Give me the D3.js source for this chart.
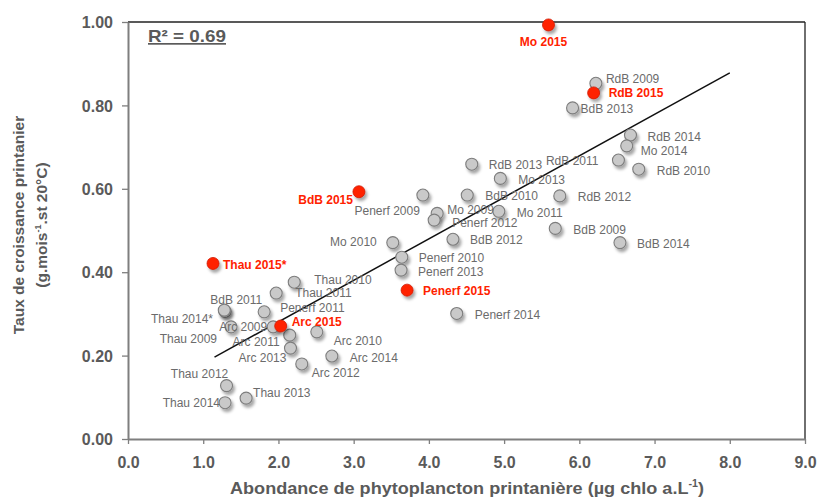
<!DOCTYPE html>
<html>
<head>
<meta charset="utf-8">
<script src="https://cdn.jsdelivr.net/npm/d3@7"></script>
<style>
  html, body { margin: 0; padding: 0; background: #fff; }
  svg { display: block; font-family: "Liberation Sans", Arial, sans-serif; }
</style>
</head>
<body>
<svg id="chart" width="818" height="498"></svg>
<script>
// Spring growth rate vs spring phytoplankton abundance, by site and year
const sitesPrev = ["RdB 2009","BdB 2013","RdB 2014","Mo 2014","RdB 2011","RdB 2010","RdB 2013","Mo 2013",
  "RdB 2012","BdB 2010","Penerf 2009","Mo 2009","Penerf 2012","Mo 2011","BdB 2009","BdB 2014","BdB 2012",
  "Mo 2010","Penerf 2010","Penerf 2013","Penerf 2014","Thau 2010","Thau 2011","Penerf 2011","Thau 2014*",
  "BdB 2011","Thau 2009","Arc 2009","Arc 2011","Arc 2013","Arc 2012","Arc 2010","Arc 2014","Thau 2012",
  "Thau 2014","Thau 2013"];
const chlaPrev = [6.22,5.91,6.68,6.63,6.52,6.79,4.57,4.95,5.74,4.51,3.92,4.11,4.07,4.93,5.68,6.54,4.32,
  3.52,3.64,3.63,4.37,2.21,1.97,1.81,1.29,1.28,1.37,1.93,2.15,2.16,2.31,2.51,2.71,1.31,1.29,1.57];
const growthPrev = [0.853,0.794,0.729,0.703,0.669,0.647,0.659,0.625,0.583,0.585,0.585,0.541,0.525,0.546,
  0.505,0.471,0.479,0.471,0.436,0.405,0.301,0.376,0.350,0.305,0.306,0.309,0.269,0.269,0.249,0.218,0.180,
  0.257,0.199,0.128,0.087,0.098];

const sites2015 = ["Mo 2015","RdB 2015","BdB 2015","Thau 2015*","Penerf 2015","Arc 2015"];
const chla2015 = [5.59,6.19,3.07,1.13,3.71,2.03];
const growth2015 = [0.993,0.830,0.593,0.421,0.357,0.271];

const xTicks = [0,1,2,3,4,5,6,7,8,9];
const yTicks = [0,0.2,0.4,0.6,0.8,1.0];

// Linear fit
const fitSlope = 0.0995;
const fitIntercept = 0.082;
const fitRange = [1.15, 8.0];
const r2Text = "R² = 0.69";

const xTitle = "Abondance de phytoplancton printanière (µg chlo a.L";
const yTitle1 = "Taux de croissance printanier";

// Label placement around each marker: [dx, dy, anchor]
const labelPlace = {
  "RdB 2009":[10,-4,"start"], "BdB 2013":[8,1,"start"], "RdB 2014":[17,2,"start"], "Mo 2014":[14,5,"start"],
  "RdB 2011":[-20,1,"end"], "RdB 2010":[18,2,"start"], "RdB 2013":[17,1,"start"], "Mo 2013":[18,1,"start"],
  "RdB 2012":[18,1,"start"], "BdB 2010":[18,1,"start"], "Penerf 2009":[-3,16,"end"], "Mo 2009":[10,-4,"start"],
  "Penerf 2012":[18,3,"start"], "Mo 2011":[18,1,"start"], "BdB 2009":[18,1,"start"], "BdB 2014":[17,1,"start"],
  "BdB 2012":[17,1,"start"], "Mo 2010":[-16,-1,"end"], "Penerf 2010":[17,1,"start"], "Penerf 2013":[17,2,"start"],
  "Penerf 2014":[18,1,"start"], "Thau 2010":[20,-2,"start"], "Thau 2011":[19,0,"start"], "Penerf 2011":[16,-4,"start"],
  "Thau 2014*":[-12,7,"end"], "BdB 2011":[12,-10,"middle"], "Thau 2009":[-14,12,"end"], "Arc 2009":[-6,0,"end"],
  "Arc 2011":[-10,7,"end"], "Arc 2013":[-4,10,"end"], "Arc 2012":[10,9,"start"], "Arc 2010":[17,9,"start"],
  "Arc 2014":[18,2,"start"], "Thau 2012":[-27,-12,"middle"], "Thau 2014":[-5,0,"end"], "Thau 2013":[7,-5,"start"],
  "Mo 2015":[-5,17,"middle"], "RdB 2015":[15,0,"start"], "BdB 2015":[-6,8,"end"], "Thau 2015*":[10,1,"start"],
  "Penerf 2015":[16,1,"start"], "Arc 2015":[11,-4,"start"]
};

const W = 818, H = 498;
const margin = {left: 128, top: 22, right: 13, bottom: 59};
const svg = d3.select("#chart");

const x = d3.scaleLinear().domain([0, 9]).range([margin.left, W - margin.right]);
const y = d3.scaleLinear().domain([0, 1]).range([H - margin.bottom, margin.top]);

const textGray = "#5a5a5a";
const red = "#ff2200";

// shadow for markers
const defs = svg.append("defs");
const f = defs.append("filter").attr("id", "shadow").attr("x", "-50%").attr("y", "-50%").attr("width", "200%").attr("height", "200%");
f.append("feDropShadow").attr("dx", 2).attr("dy", 3).attr("stdDeviation", 1.6)
  .attr("flood-color", "#000").attr("flood-opacity", 0.35);

// frame: top and right borders
svg.append("line").attr("x1", x(0)).attr("x2", x(9)).attr("y1", y(1)).attr("y2", y(1))
  .attr("stroke", "#222").attr("stroke-width", 1.3);
svg.append("line").attr("x1", x(9)).attr("x2", x(9)).attr("y1", y(1)).attr("y2", y(0))
  .attr("stroke", "#222").attr("stroke-width", 1.3);

// axes
const xAxis = d3.axisBottom(x).tickValues(xTicks).tickFormat(d3.format(".1f")).tickSize(5).tickSizeOuter(0);
const yAxis = d3.axisLeft(y).tickValues(yTicks).tickFormat(d3.format(".2f")).tickSize(6).tickSizeOuter(0);

const gx = svg.append("g").attr("transform", `translate(0,${y(0)})`).call(xAxis);
const gy = svg.append("g").attr("transform", `translate(${x(0)},0)`).call(yAxis);
[gx, gy].forEach(g => {
  g.select(".domain").attr("stroke", "#7f7f7f").attr("stroke-width", 2);
  g.selectAll(".tick line").attr("stroke", "#7f7f7f").attr("stroke-width", 1.3);
  g.selectAll(".tick text").attr("fill", textGray).attr("font-size", 16).attr("font-weight", "bold")
    .attr("font-family", "Liberation Sans, Arial, sans-serif");
});
gx.selectAll(".tick text").attr("dy", null).attr("y", 29);
gy.selectAll(".tick text").attr("x", -15).attr("dy", "0.35em");

// axis titles
const xt = svg.append("text").attr("x", 230).attr("y", 494)
  .attr("text-anchor", "start").attr("font-size", 17).attr("font-weight", "bold").attr("fill", textGray)
  .attr("textLength", 474).attr("lengthAdjust", "spacingAndGlyphs");
xt.append("tspan").text(xTitle);
xt.append("tspan").attr("font-size", 10).attr("dy", -7).text("-1");
xt.append("tspan").attr("dy", 7).text(")");

const yt = svg.append("text").attr("transform", "translate(0,225) rotate(-90)")
  .attr("text-anchor", "middle").attr("font-size", 15.5).attr("font-weight", "bold").attr("fill", textGray);
yt.append("tspan").attr("x", 0).attr("y", 24).text(yTitle1);
const yt2 = yt.append("tspan").attr("x", 0).attr("y", 47);
yt2.append("tspan").text("(g.mois");
yt2.append("tspan").attr("font-size", 9).attr("dy", -6).text("-1");
yt2.append("tspan").attr("dy", 6).text(".st 20°C)");

// R² annotation
svg.append("text").attr("x", 148).attr("y", 42).attr("font-size", 17).attr("font-weight", "bold")
  .attr("fill", textGray).attr("text-decoration", "underline")
  .attr("textLength", 78).attr("lengthAdjust", "spacingAndGlyphs").text(r2Text);

// regression line
svg.append("line")
  .attr("x1", x(fitRange[0])).attr("y1", y(fitIntercept + fitSlope * fitRange[0]))
  .attr("x2", x(fitRange[1])).attr("y2", y(fitIntercept + fitSlope * fitRange[1]))
  .attr("stroke", "#111").attr("stroke-width", 1.5);

const prev = sitesPrev.map((s, i) => ({name: s, cx: chlaPrev[i], cy: growthPrev[i]}));
const cur = sites2015.map((s, i) => ({name: s, cx: chla2015[i], cy: growth2015[i]}));

// grey markers and labels
svg.append("g").selectAll("circle").data(prev).join("circle")
  .attr("cx", d => x(d.cx)).attr("cy", d => y(d.cy)).attr("r", 6)
  .attr("fill", "#c9c9c9").attr("stroke", "#7d7d7d").attr("stroke-width", 1.1)
  .attr("filter", "url(#shadow)");

svg.append("g").selectAll("text").data(prev).join("text")
  .attr("x", d => x(d.cx) + labelPlace[d.name][0])
  .attr("y", d => y(d.cy) + labelPlace[d.name][1])
  .attr("dy", "0.35em")
  .attr("text-anchor", d => labelPlace[d.name][2])
  .attr("font-size", 12).attr("fill", "#6b6b6b").text(d => d.name);

// 2015 markers and labels
svg.append("g").selectAll("circle").data(cur).join("circle")
  .attr("cx", d => x(d.cx)).attr("cy", d => y(d.cy)).attr("r", 6)
  .attr("fill", red).attr("stroke", "#d01a00").attr("stroke-width", 0.8)
  .attr("filter", "url(#shadow)");

svg.append("g").selectAll("text").data(cur).join("text")
  .attr("x", d => x(d.cx) + labelPlace[d.name][0])
  .attr("y", d => y(d.cy) + labelPlace[d.name][1])
  .attr("dy", "0.35em")
  .attr("text-anchor", d => labelPlace[d.name][2])
  .attr("font-size", 12).attr("font-weight", "bold").attr("fill", red).text(d => d.name);
</script>
</body>
</html>
